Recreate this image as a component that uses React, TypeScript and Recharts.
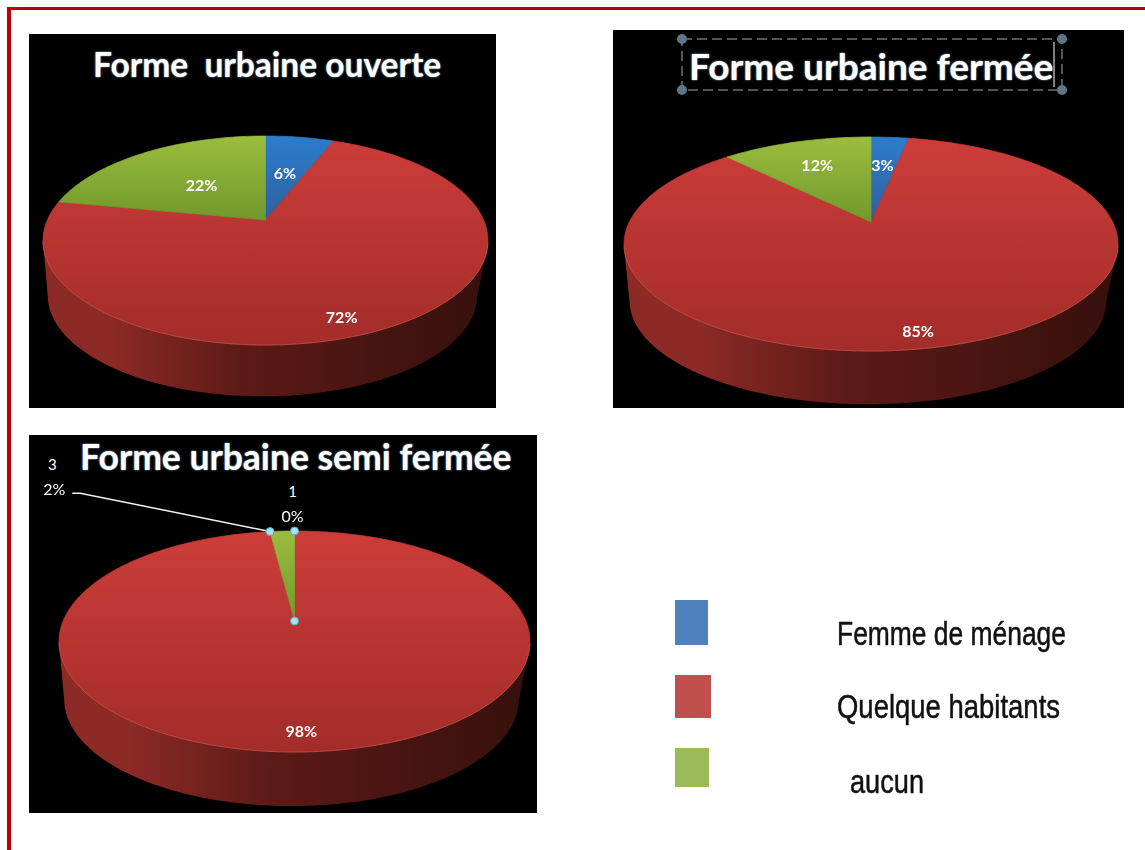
import { Pie, PieChart } from "recharts";

const sliceNames = ["Femme de ménage", "Quelque habitants", "aucun"];
const ouverteValues = [6, 72, 22];
const fermeeValues = [3, 85, 12];
const semiFermeeValues = [0, 98, 2];
const semiFermeeCounts = [1, null, 3];

const FACE = [
  ["#2c7ccb", "#30609f"],
  ["#cc3d39", "#a32c29"],
  ["#9bbd3d", "#71982c"],
];
const WALL = ["#24507f", "#8c2a26", "#5f7f26"];
const SWATCHES = ["#4f81bd", "#c0504d", "#9bbb59"];

const LEGEND_BOXES = [
  { top: 600, width: 33, height: 45 },
  { top: 675, width: 36, height: 43 },
  { top: 748, width: 34, height: 39 },
];
const LEGEND_TEXTS = [
  { x: 837, y: 645, width: 229, size: 33 },
  { x: 837, y: 718, width: 223, size: 33 },
  { x: 850, y: 793, width: 74, size: 33 },
];

type Placement = [number, number, number];

interface PanelProps {
  id: string;
  box: { left: number; top: number; width: number; height: number };
  title: string;
  titleX: number;
  titleY: number;
  titleSize: number;
  values: number[];
  cx: number;
  cy: number;
  rx: number;
  ry: number;
  apexLift: number;
  depth: number;
  placements: Placement[];
  counts?: (number | null)[];
  selected?: number;
  titleSelected?: boolean;
}

const BASE_SCALE = 0.965;
const BASE_SHIFT = -3;

// the slide's perspective: the pie centre sits above the middle of the ellipse
function project(p: PanelProps, cx: number, cy: number, deg: number) {
  const rad = (deg * Math.PI) / 180;
  const u = Math.cos(rad);
  const v = Math.sin(rad);
  const a = p.apexLift / p.ry;
  const d = 1 + a * v;
  const X = (u * Math.sqrt(1 - a * a)) / d;
  const Y = (v + a) / d;
  return {
    x: cx + p.rx * X,
    y: cy - p.ry * Y,
    baseX: cx + BASE_SHIFT + p.rx * BASE_SCALE * X,
    baseY: cy + p.depth - p.ry * BASE_SCALE * Y,
    lower: Y < 0,
  };
}

function SliceShape(props: any, p: PanelProps) {
  const { cx, cy, startAngle, endAngle, index } = props;
  if (startAngle === endAngle) return <g />;
  const apex = { x: cx, y: cy - p.apexLift };
  const steps = Math.max(2, Math.ceil(Math.abs(endAngle - startAngle) / 1.5));
  const rim = [];
  for (let i = 0; i <= steps; i++) {
    rim.push(project(p, cx, cy, startAngle + ((endAngle - startAngle) * i) / steps));
  }
  const face = `M${apex.x},${apex.y} ` + rim.map((r) => `L${r.x},${r.y}`).join(" ") + " Z";
  const front = rim.filter((r) => r.lower);
  const wall =
    front.length > 1
      ? "M" +
        front.map((r) => `${r.x},${r.y}`).join(" L") +
        " L" +
        front
          .slice()
          .reverse()
          .map((r) => `${r.baseX},${r.baseY}`)
          .join(" L") +
        " Z"
      : null;
  const edge = front.length > 1 ? "M" + front.map((r) => `${r.x},${r.y}`).join(" L") : null;
  return (
    <g>
      {wall && <path d={wall} fill={`url(#${p.id}-wall-${index})`} />}
      <path d={face} fill={`url(#${p.id}-face-${index})`} stroke={`url(#${p.id}-face-${index})`} strokeWidth={0.7} />
      {edge && <path d={edge} fill="none" stroke="#d9625c" strokeOpacity={0.55} strokeWidth={1} />}
    </g>
  );
}

function SliceLabel(props: any, p: PanelProps) {
  const { cx, cy, midAngle, startAngle, endAngle, index, value } = props;
  const [t, dx, dy] = p.placements[index];
  const rim = project(p, cx, cy, midAngle);
  const apex = { x: cx, y: cy - p.apexLift };
  const x = apex.x + (rim.x - apex.x) * t + dx;
  const y = apex.y + (rim.y - apex.y) * t + dy;
  const count = p.counts ? p.counts[index] : null;
  const plain = count !== null;
  const isSelected = p.selected === index;
  const from = project(p, cx, cy, startAngle);
  const to = project(p, cx, cy, endAngle);
  return (
    <g>
      {isSelected && (
        <polyline points={`${x + 18},${y + 5} ${x + 26},${y + 5} ${from.x},${from.y}`} fill="none" stroke="#f2f2f2" strokeWidth={1.5} />
      )}
      {isSelected &&
        [from, to, apex].map((h, i) => (
          <circle key={i} cx={h.x} cy={h.y} r={4} fill="#a6e2f2" stroke="#5aa6c4" strokeWidth={1} />
        ))}
      {count !== null && (
        <text x={x + (count === 3 ? -2 : 0)} y={y - 24} textAnchor="middle" dominantBaseline="central" fill="#ffffff" fontFamily="Lato" fontSize={15}>
          {count}
        </text>
      )}
      <text x={x} y={y} textAnchor="middle" dominantBaseline="central" fill="#ffffff" fontFamily="Lato" fontSize={16} fontWeight={plain ? 400 : 700} style={{ filter: "blur(0.3px)" }}>
        {value}%
      </text>
    </g>
  );
}

function TitleSelection() {
  const corners = [
    [69, 9],
    [449, 9],
    [69, 60],
    [449, 60],
  ];
  return (
    <svg width={511} height={70} style={{ position: "absolute", left: 0, top: 0 }}>
      <rect x={69} y={9} width={380} height={51} fill="none" stroke="#a8a8a8" strokeWidth={1} strokeDasharray="10 5" />
      {corners.map(([x, y], i) => (
        <circle key={i} cx={x} cy={y} r={5} fill="#5f7688" />
      ))}
      <line x1={441} x2={441} y1={12} y2={57} stroke="#ffffff" strokeWidth={1} />
    </svg>
  );
}

function Panel(p: PanelProps) {
  const data = p.values.map((value, i) => ({ name: sliceNames[i], value }));
  return (
    <div style={{ position: "absolute", ...p.box, background: "#000000", overflow: "hidden" }}>
      {p.titleSelected && <TitleSelection />}
      <div
        style={{
          position: "absolute",
          left: p.titleX,
          top: p.titleY,
          fontFamily: "Lato",
          fontWeight: 700,
          fontSize: p.titleSize,
          lineHeight: 1,
          whiteSpace: "pre",
          color: "#ffffff",
          textShadow: "0 0 2px #a9d3ee",
        }}
      >
        {p.title}
      </div>
      <div style={{ position: "absolute", left: 0, top: 0 }}>
        <PieChart width={p.box.width} height={p.box.height} margin={{ top: 0, right: 0, bottom: 0, left: 0 }}>
          <defs>
            {FACE.map((c, i) => (
              <linearGradient key={i} id={`${p.id}-face-${i}`} gradientUnits="userSpaceOnUse" x1="0" x2="0" y1={p.cy - p.ry} y2={i === 1 ? p.cy + p.ry : p.cy - p.apexLift}>
                <stop offset="0" stopColor={c[0]} />
                <stop offset="1" stopColor={c[1]} />
              </linearGradient>
            ))}
            {WALL.map((c, i) => (
              <linearGradient key={i} id={`${p.id}-wall-${i}`} gradientUnits="userSpaceOnUse" x1={p.cx - p.rx} x2={p.cx + p.rx} y1="0" y2="0">
                <stop offset="0" stopColor={c} />
                <stop offset="0.15" stopColor={c} />
                <stop offset="0.45" stopColor="#5c1a16" />
                <stop offset="1" stopColor="#36100d" />
              </linearGradient>
            ))}
          </defs>
          <Pie
            data={data}
            dataKey="value"
            nameKey="name"
            cx={p.cx}
            cy={p.cy}
            outerRadius={p.rx}
            startAngle={90}
            endAngle={-270}
            stroke="none"
            isAnimationActive={false}
            labelLine={false}
            shape={(s: any) => SliceShape(s, p)}
            label={(s: any) => SliceLabel(s, p)}
          />
        </PieChart>
      </div>
    </div>
  );
}

const panels: PanelProps[] = [
  {
    id: "ouverte",
    box: { left: 29, top: 34, width: 467, height: 374 },
    title: "Forme  urbaine ouverte",
    titleX: 64,
    titleY: 14,
    titleSize: 33.5,
    values: ouverteValues,
    cx: 236.5,
    cy: 206.5,
    rx: 222.5,
    ry: 104.5,
    apexLift: 20.5,
    depth: 55,
    placements: [
      [0.57, 0, 0],
      [0.6, 0, 33],
      [0.53, 0, 0],
    ],
  },
  {
    id: "fermee",
    box: { left: 613, top: 30, width: 511, height: 378 },
    title: "Forme urbaine fermée",
    titleX: 76,
    titleY: 17,
    titleSize: 37,
    values: fermeeValues,
    cx: 258,
    cy: 214,
    rx: 247,
    ry: 107,
    apexLift: 22,
    depth: 57,
    titleSelected: true,
    placements: [
      [0.6, 0, -7],
      [0.56, 0, 40],
      [0.72, 0, 0],
    ],
  },
  {
    id: "semi",
    box: { left: 29, top: 435, width: 508, height: 378 },
    title: "Forme urbaine semi fermée",
    titleX: 51,
    titleY: 4,
    titleSize: 35.5,
    values: semiFermeeValues,
    cx: 265.5,
    cy: 206.5,
    rx: 235.5,
    ry: 110.5,
    apexLift: 20.5,
    depth: 58,
    placements: [
      [1, -2, -16],
      [0.55, -3, 38],
      [1, -228, -43],
    ],
    counts: semiFermeeCounts,
    selected: 2,
  },
];

export default function App() {
  return (
    <div style={{ position: "absolute", left: 0, top: 0, width: 1145, height: 850, background: "#ffffff", overflow: "hidden" }}>
      <div style={{ position: "absolute", left: 7, top: 7, width: 1138, height: 3, background: "#c00000" }} />
      <div style={{ position: "absolute", left: 7, top: 7, width: 4, height: 843, background: "#c00000" }} />
      {panels.map((p) => (
        <Panel key={p.id} {...p} />
      ))}
      {LEGEND_BOXES.map((b, i) => (
        <div key={i} style={{ position: "absolute", left: 675, top: b.top, width: b.width, height: b.height, background: SWATCHES[i] }} />
      ))}
      <svg width={1145} height={850} style={{ position: "absolute", left: 0, top: 0, pointerEvents: "none" }}>
        {LEGEND_TEXTS.map((t, i) => (
          <text key={i} x={t.x} y={t.y} textLength={t.width} lengthAdjust="spacingAndGlyphs" fontFamily="'Liberation Sans Narrow', 'Liberation Sans'" fontSize={t.size} fill="#111111" stroke="#111111" strokeWidth={0.5} style={{ filter: "blur(0.3px)" }}>
            {sliceNames[i]}
          </text>
        ))}
      </svg>
    </div>
  );
}
